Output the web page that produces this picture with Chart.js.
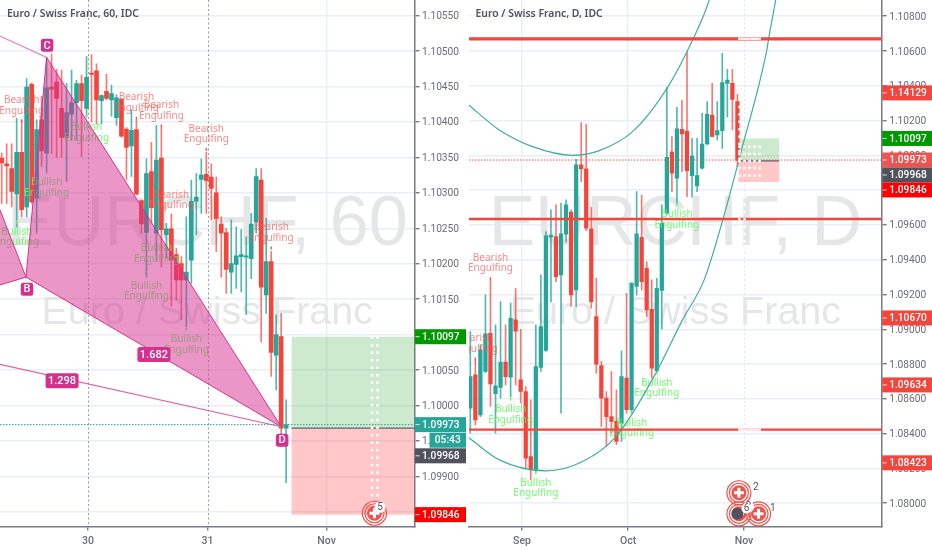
<!DOCTYPE html>
<html><head><meta charset="utf-8">
<script src="https://cdn.jsdelivr.net/npm/chart.js@4"></script>
<style>html,body{margin:0;padding:0;background:#fff;overflow:hidden}canvas{position:absolute;top:0}</style>
</head><body>
<canvas id="left" width="466" height="550" style="left:0"></canvas>
<canvas id="right" width="466" height="550" style="left:466px"></canvas>
<script>
// ---------- hourly panel ----------
const leftOpen=[1.10349,1.10341,1.10334,1.10298,1.10357,1.10280,1.10453,1.10292,1.10403,1.10356,1.10449,1.10456,1.10419,1.10378,1.10411,1.10427,1.10454,1.10419,1.10469,1.10472,1.10430,1.10443,1.10431,1.10406,1.10432,1.10390,1.10366,1.10389,1.10289,1.10244,1.10330,1.10243,1.10349,1.10241,1.10249,1.10213,1.10200,1.10177,1.10205,1.10288,1.10319,1.10326,1.10322,1.10300,1.10256,1.10244,1.10188,1.10199,1.10210,1.10209,1.10207,1.10259,1.10318,1.10156,1.10203,1.10071,1.10097,1.09968];
const leftHigh=[1.10356,1.10369,1.10369,1.10405,1.10403,1.10461,1.10455,1.10403,1.10436,1.10491,1.10496,1.10474,1.10473,1.10454,1.10473,1.10459,1.10466,1.10492,1.10495,1.10482,1.10438,1.10467,1.10452,1.10438,1.10433,1.10392,1.10417,1.10403,1.10290,1.10348,1.10371,1.10395,1.10392,1.10257,1.10266,1.10222,1.10210,1.10266,1.10318,1.10327,1.10348,1.10357,1.10341,1.10322,1.10266,1.10250,1.10262,1.10252,1.10248,1.10238,1.10271,1.10334,1.10334,1.10264,1.10217,1.10128,1.10130,1.10008];
const leftLow=[1.10285,1.10285,1.10280,1.10252,1.10266,1.10266,1.10285,1.10243,1.10337,1.10329,1.10355,1.10350,1.10350,1.10316,1.10374,1.10374,1.10351,1.10408,1.10400,1.10397,1.10397,1.10431,1.10408,1.10395,1.10378,1.10318,1.10323,1.10297,1.10243,1.10181,1.10257,1.10205,1.10195,1.10208,1.10140,1.10149,1.10121,1.10111,1.10172,1.10241,1.10271,1.10271,1.10262,1.10217,1.10181,1.10158,1.10158,1.10165,1.10160,1.10128,1.10179,1.10243,1.10090,1.10130,1.10041,1.10022,1.09942,1.09891];
const leftClose=[1.10342,1.10338,1.10302,1.10357,1.10276,1.10449,1.10287,1.10389,1.10359,1.10448,1.10446,1.10433,1.10378,1.10413,1.10427,1.10454,1.10430,1.10463,1.10467,1.10431,1.10437,1.10433,1.10440,1.10434,1.10380,1.10364,1.10388,1.10298,1.10256,1.10327,1.10279,1.10346,1.10248,1.10249,1.10205,1.10177,1.10177,1.10188,1.10288,1.10294,1.10325,1.10317,1.10306,1.10264,1.10243,1.10192,1.10200,1.10211,1.10213,1.10211,1.10256,1.10323,1.10167,1.10203,1.10075,1.10100,1.09968,1.09973];
const leftPriceTicks=[1.0985,1.099,1.0995,1.1,1.1005,1.101,1.1015,1.102,1.1025,1.103,1.1035,1.104,1.1045,1.105,1.1055];
const leftTimePos=[17.3,41.25,65.1];
const leftTimeNames=['30','31','Nov'];
const leftBearIdx=[4,27,32,41,34,54];
const leftBearPrice=[1.10423,1.10427,1.10416,1.10383,1.10290,1.10244];
const leftBullIdx=[17,9,3,31,29,37];
const leftBullPrice=[1.10385,1.10307,1.10237,1.10214,1.10161,1.10086];
const patternTri1X=[-0.34,4.87,-0.34];
const patternTri1Y=[1.10276,1.10181,1.10170];
const patternTri2X=[4.87,9.0,56.0,4.87];
const patternTri2Y=[1.10181,1.10491,1.09970,1.10181];
const patternLineXC_X=[-0.34,9.0];
const patternLineXC_Y=[1.10521,1.10491];
const patternLineXD_X=[-0.34,56.0];
const patternLineXD_Y=[1.10058,1.09970];
const patternTagText=['C','B','D','1.682','1.298'];
const patternTagIdx=[9.1,5.07,56.2,30.5,12.1];
const patternTagPrice=[1.10508,1.10164,1.09951,1.10072,1.10035];
const leftTarget=1.10097, leftEntry=1.09968, leftStop=1.09846, leftLast=1.09973;
const leftBoxX=[58.1,82.8];
const leftTagText=['1.10097','1.09973','05:43','1.09968','1.09846'];
const leftTagAnchor=[1.10097,1.09973,1.09951,1.09929,1.09846];
// ---------- daily panel ----------
const rightOpen=[1.08546,1.08738,1.08508,1.08757,1.08977,1.08629,1.08665,1.08811,1.08724,1.09054,1.08709,1.08642,1.08268,1.08192,1.08780,1.08878,1.09529,1.09533,1.09313,1.09546,1.09673,1.09226,1.09945,1.09922,1.09577,1.09073,1.08791,1.08604,1.08498,1.08470,1.08460,1.08719,1.08537,1.09246,1.09529,1.09351,1.09115,1.08761,1.09223,1.09667,1.10018,1.09868,1.10150,1.10140,1.09883,1.09824,1.09926,1.10065,1.10232,1.10117,1.10142,1.10414,1.10414,1.10309];
const rightHigh=[1.08987,1.08824,1.08910,1.09198,1.09284,1.09025,1.09159,1.09025,1.09150,1.09236,1.09000,1.08671,1.08594,1.09025,1.09313,1.09562,1.09686,1.09715,1.09724,1.09744,1.09686,1.09977,1.10188,1.10180,1.09701,1.09293,1.08815,1.08642,1.08757,1.08652,1.08876,1.09207,1.09265,1.09791,1.09772,1.09389,1.09284,1.09293,1.09715,1.10391,1.10108,1.10276,1.10318,1.10596,1.10098,1.10098,1.10242,1.10309,1.10414,1.10309,1.10587,1.10495,1.10495,1.10351];
const rightLow=[1.08403,1.08450,1.08498,1.08750,1.08556,1.08403,1.08604,1.08680,1.08613,1.08680,1.08575,1.08201,1.08134,1.08182,1.08757,1.08872,1.09159,1.09274,1.08518,1.09500,1.09131,1.09131,1.09849,1.09567,1.09121,1.08747,1.08441,1.08326,1.08403,1.08336,1.08355,1.08518,1.08518,1.09198,1.09226,1.09073,1.08719,1.08757,1.09000,1.09660,1.09791,1.09721,1.09906,1.09763,1.09759,1.09791,1.09920,1.10060,1.10105,1.10088,1.10040,1.10219,1.10146,1.09935];
const rightClose=[1.08728,1.08479,1.08882,1.08973,1.08686,1.08675,1.08811,1.08728,1.09063,1.08989,1.08642,1.08259,1.08192,1.08786,1.09016,1.09537,1.09542,1.09303,1.09548,1.09715,1.09198,1.09945,1.09922,1.09581,1.09159,1.08799,1.08604,1.08498,1.08470,1.08355,1.08728,1.08537,1.09265,1.09548,1.09274,1.09111,1.08776,1.09236,1.09609,1.09989,1.09897,1.10152,1.10123,1.09912,1.09996,1.09883,1.10065,1.10236,1.10108,1.10142,1.10418,1.10433,1.10322,1.09970];
const rightPriceTicks=[1.08,1.082,1.084,1.086,1.088,1.09,1.092,1.094,1.096,1.098,1.1,1.102,1.104,1.106,1.108];
const rightTimePos=[10.26,31.3,54.3];
const rightTimeNames=['Sep','Oct','Nov'];
const rightBearIdx=[4,1];
const rightBearPrice=[1.09380,1.08918];
const rightBullIdx=[8,13,32,37,41];
const rightBullPrice=[1.08510,1.08087,1.08433,1.08661,1.09629];
const curveUpperX=[-0.33,5.75,12.37,20.3,25.6,32.2,39.15,44.1,47.4,48.4];
const curveUpperY=[1.10290,1.10146,1.10050,1.10000,1.10027,1.10136,1.10391,1.10663,1.10893,1.11008];
const curveLowerX=[-0.33,5.75,15.0,22.3,28.9,36.8,42.1,46.4,50.1,54.0,58.7,59.5,60.6];
const curveLowerY=[1.08378,1.08249,1.08186,1.08240,1.08383,1.08747,1.09054,1.09284,1.09629,1.10050,1.10586,1.10721,1.10893];
const rightLevels=[1.10670,1.09634,1.08423];
const rightLevelWidths=[3.2,2.4,2.4];
const rightTarget=1.10097, rightEntry=1.09968, rightStop=1.09846, rightLast=1.09973;
const rightBoxX=[53.2,61.3];
const rightTagText=['1.14129','1.10097','1.09973','1.09968','1.09846','1.10670','1.09634','1.08423'];
const rightTagAnchor=[1.10359,1.10097,1.09973,1.09887,1.09801,1.09065,1.08680,1.08232];

const UP='#26a69a',DOWN='#f4453c',PINK='#d6308f',FONT='Roboto,sans-serif',LABEL='"Noto Sans",sans-serif';
const pts=(xs,ys)=>xs.map((x,i)=>({x,y:ys[i]}));
function candles(o,h,l,c,w){
  const col=o.map((v,i)=>c[i]>=v?UP:DOWN);
  const wickCol=o.map((v,i)=>c[i]>=v?'rgba(38,166,154,.8)':'rgba(244,69,60,.72)');
  return [
   {type:'bar',label:'body',order:10,grouped:false,barThickness:w,minBarLength:1,backgroundColor:col,borderWidth:0,data:o.map((v,i)=>({x:i,y:[v,c[i]]}))},
   {type:'bar',label:'wick',order:11,grouped:false,barThickness:1,backgroundColor:wickCol,borderWidth:0,data:o.map((v,i)=>({x:i,y:[l[i],h[i]]}))}
  ];
}
const line=(data,color,width,order,extra={})=>Object.assign({type:'line',order,data,borderColor:color,borderWidth:width,pointRadius:0,fill:false,tension:0},extra);
const box=(x,a,b,color,order)=>line(pts([x[0],x[1],x[1],x[0]],[a,a,b,b]),'transparent',0,order,{fill:'shape',backgroundColor:color});

function tags(ctx,area,chart,list){
  const y=chart.scales.y;
  list.forEach(t=>{
    const py=y.getPixelForValue(t.anchor),h=15;
    const x0=t.x0??area.right+.5;
    ctx.fillStyle=t.bg;ctx.fillRect(x0,py-h/2,chart.width-x0,h);
    ctx.fillStyle='rgba(255,255,255,.85)';if(!t.noTick)ctx.fillRect(area.right+1,py-.5,4,1);
    ctx.fillStyle='#fff';ctx.font='500 10.2px '+FONT;ctx.textBaseline='middle';ctx.textAlign=t.center?'center':'left';
    ctx.fillText(t.text,t.center?(x0+chart.width)/2:area.right+7.5,py+.5);
  });
}
function flag(ctx,x,y,badge){
  ctx.strokeStyle='#f0534a';ctx.lineWidth=1.2;
  [12,9.5].forEach(r=>{ctx.beginPath();ctx.arc(x,y,r,0,7);ctx.stroke();});
  ctx.fillStyle='#ef5350';ctx.beginPath();ctx.arc(x,y,7.5,0,7);ctx.fill();
  ctx.fillStyle='#fff';ctx.fillRect(x-5,y-1.5,10,3);ctx.fillRect(x-1.5,y-5,3,10);
  if(badge){ctx.fillStyle='#fff';ctx.beginPath();ctx.arc(badge.x+x,badge.y+y,5.5,0,7);ctx.fill();
    ctx.fillStyle='#50535e';ctx.font='10px '+FONT;ctx.textAlign='center';ctx.textBaseline='middle';ctx.fillText(badge.t,badge.x+x,badge.y+y);}
}
function panel(cfg){return {id:'panel'+cfg.id,
  beforeDatasetsDraw(chart){
    const {ctx,chartArea:a,scales:{x,y}}=chart;
    ctx.save();ctx.beginPath();ctx.rect(a.left,a.top,a.right-a.left,a.bottom-a.top);ctx.clip();
    ctx.fillStyle='#e5e6e8';ctx.textAlign='center';ctx.textBaseline='middle';
    const cx=(a.left+a.right)/2;
    ctx.font='70px "Liberation Sans",sans-serif';ctx.fillText(cfg.mark,cx,226);
    ctx.font='39.5px "Liberation Sans",sans-serif';ctx.fillText('Euro / Swiss Franc',cx,313);
    ctx.strokeStyle=cfg.dashColor;ctx.lineWidth=1;ctx.setLineDash([2,2.5]);
    cfg.dashed.forEach(v=>{const p=Math.round(x.getPixelForValue(v))+.5;ctx.beginPath();ctx.moveTo(p,0);ctx.lineTo(p,a.bottom);ctx.stroke();});
    ctx.restore();
  },
  afterDatasetDraw(chart,args){
    if(args.meta.label!=='body')return;
    const {ctx,chartArea:a,scales:{x,y}}=chart;
    ctx.save();ctx.beginPath();ctx.rect(a.left,a.top,a.right-a.left,a.bottom-a.top);ctx.clip();
    ctx.textAlign='center';ctx.textBaseline='middle';ctx.font='10px '+LABEL;
    const draw=(idx,pr,color,dotColor,dir)=>idx.forEach((k,i)=>{
      const px=x.getPixelForValue(k),py=y.getPixelForValue(pr[i]);
      ctx.fillStyle=color;ctx.fillText('Bearish'===dir?'Bearish':'Bullish',px,py-5.2);ctx.fillText('Engulfing',px,py+5.2);
      ctx.fillStyle=dotColor;ctx.fillRect(px-.75,py+(dir==='Bearish'?14:-17),1.5,3);
    });
    draw(cfg.bearI,cfg.bearP,'rgba(247,90,90,.72)','#f75a5a','Bearish');
    draw(cfg.bullI,cfg.bullP,'rgba(90,250,90,.85)','#5afa5a','Bullish');
    ctx.restore();
  },
  afterDraw(chart){
    const {ctx,chartArea:a,scales:{x,y}}=chart;
    ctx.save();
    ctx.beginPath();ctx.rect(a.left,a.top,a.right-a.left,a.bottom-a.top);ctx.clip();
    cfg.overlay(ctx,x,y);
    ctx.restore();
    ctx.save();
    tags(ctx,a,chart,cfg.tags);
    ctx.fillStyle='#50535e';ctx.font='600 10.4px '+LABEL;ctx.textAlign='left';ctx.textBaseline='middle';
    ctx.fillText(cfg.title,cfg.titleX,14);
    ctx.restore();
  }
};}
function noPad(s){s.paddingTop=0;s.paddingBottom=0;s.paddingLeft=0;s.paddingRight=0;}
function build(id,cfg){
  new Chart(document.getElementById(id),{
    data:{datasets:cfg.datasets},
    plugins:[panel(cfg)],
    options:{responsive:false,animation:false,events:[],
      layout:{padding:{left:cfg.padLeft,right:0,top:0,bottom:0}},
      plugins:{legend:{display:false},tooltip:{enabled:false}},
      scales:{
        x:{type:'linear',offset:false,min:cfg.xMin,max:cfg.xMax,
          afterBuildTicks:s=>{s.ticks=cfg.timePos.map(value=>({value}));},
          afterFit:s=>{s.height=23.5;noPad(s);},
          grid:{offset:false,color:c=>cfg.dashed.includes(c.tick&&c.tick.value)?'rgba(0,0,0,0)':'#e9eff6',lineWidth:1.4,tickLength:4,tickColor:'#787b86'},
          border:{color:'#787b86',width:1.5},
          ticks:{autoSkip:false,maxRotation:0,padding:5,color:'#6a6d78',font:{size:10.5,family:FONT,weight:'500'},
            callback:v=>cfg.timeNames[cfg.timePos.indexOf(v)]??''}},
        y:{type:'linear',position:'right',min:cfg.yMin,max:cfg.yMax,
          afterBuildTicks:s=>{s.ticks=cfg.priceTicks.map(value=>({value}));},
          afterFit:s=>{s.width=cfg.axisW;noPad(s);},
          grid:{color:'#e9eff6',lineWidth:1.4,tickLength:5,tickColor:'#787b86'},
          border:{color:'#787b86',width:1.5},
          ticks:{autoSkip:false,padding:2.5,labelOffset:1,crossAlign:'near',color:'#6a6d78',font:{size:10.2,family:FONT},callback:v=>v.toFixed(5)}}
      }}
  });
}
function dots(ctx,xs,ys,c='#fff'){ctx.fillStyle=c;xs.forEach(a=>ys.forEach(b=>ctx.fillRect(a-1.25,b-1.25,2.5,2.5)));}
function range(a,b,s){const r=[];for(let v=a;v<=b;v+=s)r.push(v);return r;}

build('left',{id:'L',mark:'EURCHF, 60',title:'Euro / Swiss Franc, 60, IDC',titleX:7,padLeft:0,axisW:51.5,
  xMin:-0.34,xMax:82.72,yMin:1.098293,yMax:1.105719,
  timePos:leftTimePos,timeNames:leftTimeNames,priceTicks:leftPriceTicks,dashed:[17.3,41.25],dashColor:'#9a9da6',
  bearI:leftBearIdx,bearP:leftBearPrice,bullI:leftBullIdx,bullP:leftBullPrice,
  tags:[
    {text:leftTagText[0],anchor:leftTagAnchor[0],bg:'#009900'},
    {text:leftTagText[1],anchor:leftTagAnchor[1],bg:'#26a69a'},
    {text:leftTagText[2],anchor:leftTagAnchor[2],bg:'#26a69a',x0:429.5,center:true,noTick:true},
    {text:leftTagText[3],anchor:leftTagAnchor[3],bg:'#50535e'},
    {text:leftTagText[4],anchor:leftTagAnchor[4],bg:'#ff0000'}],
  datasets:[
    ...candles(leftOpen,leftHigh,leftLow,leftClose,4),
    line(pts(patternTri1X,patternTri1Y),PINK,1,5,{fill:'shape',backgroundColor:'rgba(214,48,143,.5)'}),
    line(pts(patternTri2X,patternTri2Y),PINK,1,4,{fill:'shape',backgroundColor:'rgba(214,48,143,.5)'}),
    line(pts(patternLineXC_X,patternLineXC_Y),'#e98ac3',1.2,3),
    line(pts(patternLineXD_X,patternLineXD_Y),'#e060ac',1.2,3),
    box(leftBoxX,leftTarget,leftEntry,'rgba(76,175,80,.28)',7),
    box(leftBoxX,leftEntry,leftStop,'rgba(255,82,82,.32)',7),
    line(pts(leftBoxX,[leftEntry,leftEntry]),'#5d606b',1.2,6),
    line(pts([-0.34,82.72],[leftLast,leftLast]),'#26a69a',1,2,{borderDash:[1.5,1.5]})
  ],
  overlay(ctx,x,y){
    const top=y.getPixelForValue(leftTarget);
    dots(ctx,[x.getPixelForValue(74.2),x.getPixelForValue(75.3)],range(top+1,505,7.5));
    flag(ctx,x.getPixelForValue(74.7),y.getPixelForValue(1.09848),{x:5.5,y:-6,t:'5'});
    patternTagText.forEach((t,i)=>{
      const px=x.getPixelForValue(patternTagIdx[i]),py=y.getPixelForValue(patternTagPrice[i]);
      const w=t.length>1?33:12.5,h=t.length>1?15:13;
      ctx.fillStyle=PINK;ctx.beginPath();ctx.roundRect(px-w/2,py-h/2,w,h,2.5);ctx.fill();
      ctx.fillStyle='#fff';ctx.font='500 11px '+FONT;ctx.textAlign='center';ctx.textBaseline='middle';ctx.fillText(t,px,py+.5);
    });
  }
});

build('right',{id:'R',mark:'EURCHF, D',title:'Euro / Swiss Franc, D, IDC',titleX:9.5,padLeft:3,axisW:50.3,
  xMin:-0.26,xMax:81.63,yMin:1.07866,yMax:1.10893,
  timePos:rightTimePos,timeNames:rightTimeNames,priceTicks:rightPriceTicks,dashed:[54.3],dashColor:'#dfe6ee',
  bearI:rightBearIdx,bearP:rightBearPrice,bullI:rightBullIdx,bullP:rightBullPrice,
  tags:[
    {text:rightTagText[0],anchor:rightTagAnchor[0],bg:'#f4453c'},
    {text:rightTagText[1],anchor:rightTagAnchor[1],bg:'#009900'},
    {text:rightTagText[2],anchor:rightTagAnchor[2],bg:'#ef5350'},
    {text:rightTagText[3],anchor:rightTagAnchor[3],bg:'#50535e'},
    {text:rightTagText[4],anchor:rightTagAnchor[4],bg:'#ff0000'},
    {text:rightTagText[5],anchor:rightTagAnchor[5],bg:'#f4453c'},
    {text:rightTagText[6],anchor:rightTagAnchor[6],bg:'#f4453c'},
    {text:rightTagText[7],anchor:rightTagAnchor[7],bg:'#f4453c'}],
  datasets:[
    ...candles(rightOpen,rightHigh,rightLow,rightClose,3.6),
    line(pts(curveUpperX,curveUpperY),'#3fae9e',1.2,3,{cubicInterpolationMode:'monotone'}),
    line(pts(curveLowerX,curveLowerY),'#3fae9e',1.2,3,{cubicInterpolationMode:'monotone'}),
    ...rightLevels.map((v,i)=>line(pts([-0.26,81.63],[v,v]),'#f4453c',rightLevelWidths[i],2)),
    box(rightBoxX,rightTarget,rightEntry,'rgba(76,175,80,.28)',7),
    box(rightBoxX,rightEntry,rightStop,'rgba(255,82,82,.32)',7),
    line(pts(rightBoxX,[rightEntry,rightEntry]),'#5d606b',1.2,6),
    line(pts([-0.26,81.63],[rightLast,rightLast]),'#ef5350',1,2,{borderDash:[1.5,1.5]})
  ],
  overlay(ctx,x,y){
    const cols=[53.4,54.4,55.4,56.4,57.4].map(v=>x.getPixelForValue(v));
    dots(ctx,[...cols,...[53.9,54.9,55.9,56.9].map(v=>x.getPixelForValue(v))],[y.getPixelForValue(rightLevels[0])]);
    dots(ctx,[...cols,...[53.9,54.9,55.9,56.9].map(v=>x.getPixelForValue(v))],[y.getPixelForValue(rightLevels[2])],'#fff');
    dots(ctx,[cols[0]],range(107,160,7.4));
    dots(ctx,cols,[146.7,154,161,168,175.7]);
    dots(ctx,cols.slice(0,2),range(197,252,7.4));
    flag(ctx,x.getPixelForValue(53.3),y.getPixelForValue(1.08060),{x:17,y:-5,t:'2'});
    flag(ctx,x.getPixelForValue(53.3),y.getPixelForValue(1.07939));
    flag(ctx,x.getPixelForValue(57.2),y.getPixelForValue(1.07939),{x:-10,y:-7,t:'2'});
    ctx.fillStyle='#50535e';ctx.beginPath();ctx.arc(x.getPixelForValue(53),y.getPixelForValue(1.07939),6,0,7);ctx.fill();
    ctx.fillStyle='#fff';ctx.beginPath();ctx.arc(x.getPixelForValue(54.8),y.getPixelForValue(1.07970),5,0,7);ctx.fill();
    ctx.fillStyle='#50535e';ctx.font='10px '+FONT;ctx.textAlign='center';ctx.textBaseline='middle';
    ctx.fillText('6',x.getPixelForValue(54.8),y.getPixelForValue(1.07970));
    ctx.fillText('1',x.getPixelForValue(60),y.getPixelForValue(1.07970));
  }
});
</script>
</body></html>
